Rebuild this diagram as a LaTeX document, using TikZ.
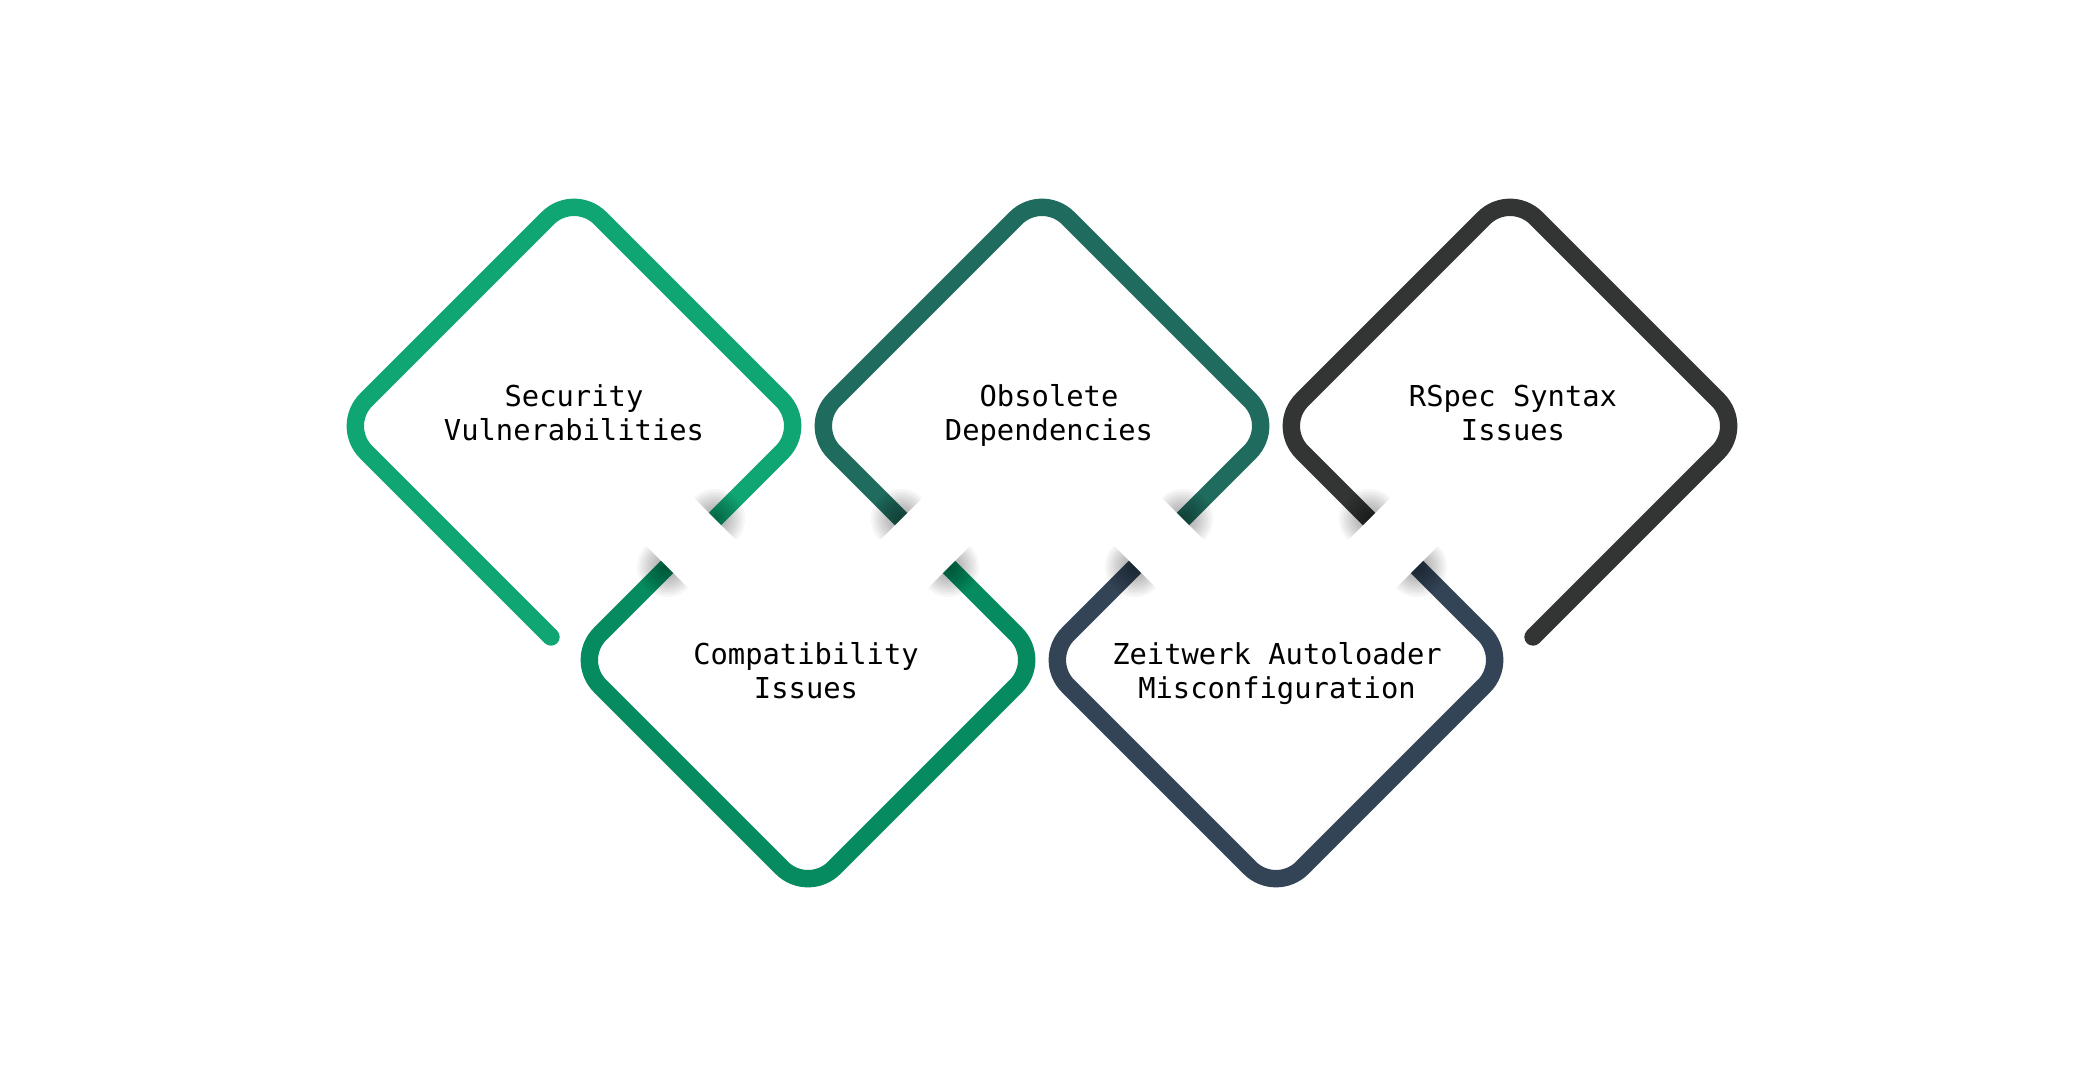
\documentclass[tikz,border=0pt]{standalone}
\usepackage{fontspec}
\setmonofont{DejaVu Sans Mono}
\definecolor{cS}{HTML}{10A674}
\definecolor{cC}{HTML}{058B5F}
\definecolor{cO}{HTML}{1F6B5D}
\definecolor{cZ}{HTML}{334456}
\definecolor{cR}{HTML}{333535}
\newcommand{\gapshade}[4]{%
  \begin{scope}
    \clip ({#1-(#4)},{#2+(#3)}) -- ({#1-(#4)+(#3)},{#2+(#3)+(#4)}) -- ({#1+(#4)+(#3)},{#2-(#3)+(#4)}) -- ({#1+(#4)},{#2-(#3)}) -- cycle;
    \foreach \k in {1,...,12} {\fill[black, opacity=0.036] (#1,#2) circle ({\k*1.25pt});}
  \end{scope}}
\tikzset{
  rib/.style={line width=8.7pt, rounded corners=18.5pt, line cap=butt, line join=round},
  lbl/.style={anchor=base, inner sep=0pt, text=black, font=\ttfamily\fontsize{14.4}{17}\selectfont}
}
\begin{document}
\begin{tikzpicture}[x=0.5pt, y=-0.5pt]
\fill[white] (0,0) rectangle (2084,1086);
\useasboundingbox (0,0) rectangle (2084,1086);
% ribbon segments
\draw[rib, cS] (551,637) -- (340,426) -- (574,192) -- (808,426) -- (715,519);
\draw[rib, cC] (667,567) -- (574,660) -- (808,894) -- (1042,660) -- (949,567);
\draw[rib, cO] (901,519) -- (808,426) -- (1042,192) -- (1276,426) -- (1183,519);
\draw[rib, cZ] (1135,567) -- (1042,660) -- (1276,894) -- (1510,660) -- (1417,567);
\draw[rib, cR] (1369,519) -- (1276,426) -- (1510,192) -- (1744,426) -- (1533,637);
\fill[cS] (551,637) circle (4.35pt);
\fill[cR] (1533,637) circle (4.35pt);
% shadows at the breaks
\gapshade{715}{519}{28}{-28}
\gapshade{667}{567}{-28}{28}
\gapshade{901}{519}{-28}{-28}
\gapshade{949}{567}{28}{28}
\gapshade{1183}{519}{28}{-28}
\gapshade{1135}{567}{-28}{28}
\gapshade{1369}{519}{-28}{-28}
\gapshade{1417}{567}{28}{28}
% labels
\node[lbl] (s1) at (574,406) {Security};
\node[lbl] (s2) at (574,440) {Vulnerabilities};
\node[lbl] (c1) at (806,664) {Compatibility};
\node[lbl] (c2) at (806,698) {Issues};
\node[lbl] (o1) at (1049,406) {Obsolete};
\node[lbl] (o2) at (1049,440) {Dependencies};
\node[lbl] (z1) at (1277,664) {Zeitwerk Autoloader};
\node[lbl] (z2) at (1277,698) {Misconfiguration};
\node[lbl] (r1) at (1513,406) {RSpec Syntax};
\node[lbl] (r2) at (1513,440) {Issues};
\end{tikzpicture}
\end{document}
